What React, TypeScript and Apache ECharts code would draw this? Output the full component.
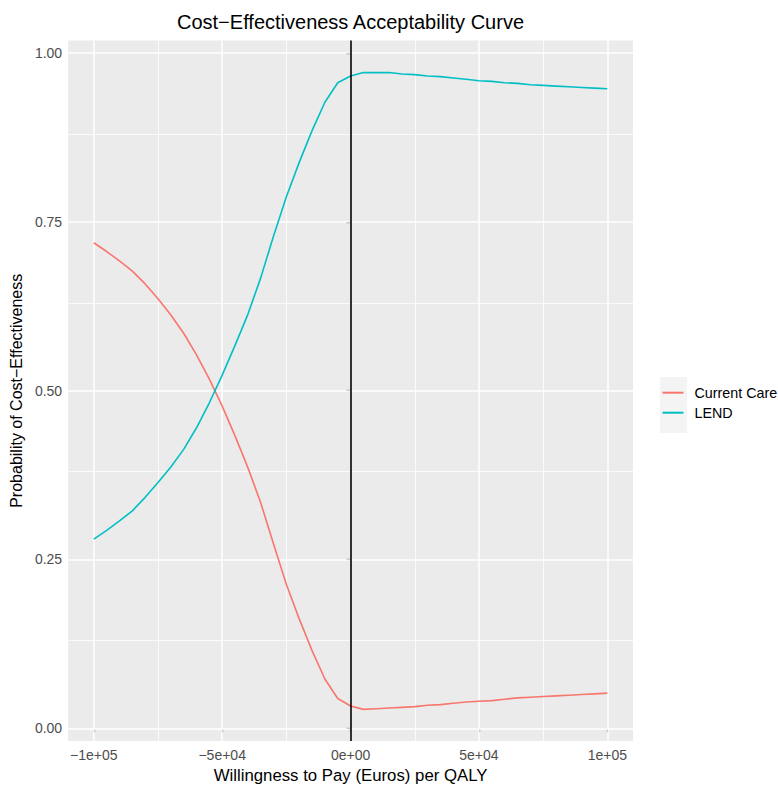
import React, { useEffect, useRef } from "react";
import * as echarts from "echarts";

// Willingness to pay (Euros) per QALY
const wtp = [
  -100000, -95000, -90000, -85000, -80000, -75000, -70000, -65000, -60000, -55000,
  -50000, -45000, -40000, -35000, -30000, -25000, -20000, -15000, -10000, -5000,
  0, 5000, 10000, 15000, 20000, 25000, 30000, 35000, 40000, 45000,
  50000, 55000, 60000, 65000, 70000, 75000, 80000, 85000, 90000, 95000, 100000,
];

const currentCare = [
  0.719, 0.706, 0.692, 0.677, 0.658, 0.636, 0.612, 0.585, 0.553, 0.517,
  0.477, 0.433, 0.386, 0.334, 0.273, 0.213, 0.162, 0.115, 0.073, 0.044,
  0.033, 0.028, 0.029, 0.030, 0.031, 0.032, 0.034, 0.035, 0.037, 0.039,
  0.040, 0.041, 0.043, 0.045, 0.046, 0.047, 0.048, 0.049, 0.050, 0.051, 0.052,
];

const lend = [
  0.280, 0.293, 0.307, 0.322, 0.342, 0.364, 0.387, 0.413, 0.445, 0.482,
  0.523, 0.567, 0.613, 0.667, 0.729, 0.787, 0.838, 0.885, 0.927, 0.956,
  0.966, 0.971, 0.971, 0.971, 0.969, 0.968, 0.966, 0.965, 0.963, 0.961,
  0.959, 0.958, 0.956, 0.955, 0.953, 0.952, 0.951, 0.950, 0.949, 0.948, 0.947,
];

const seriesNames = ["Current Care", "LEND"];
const xTickValues = [-100000, -50000, 0, 50000, 100000];
const xTickLabels = ["\u22121e+05", "\u22125e+04", "0e+00", "5e+04", "1e+05"];
const xMinorValues = [-75000, -25000, 25000, 75000];
const yTickValues = [0, 0.25, 0.5, 0.75, 1];
const yTickLabels = ["0.00", "0.25", "0.50", "0.75", "1.00"];
const yMinorValues = [0.125, 0.375, 0.625, 0.875];
const vlineAt = [0];

const FONT = "'Liberation Sans', Arial, Helvetica, sans-serif";

export default function App() {
  const ref = useRef<HTMLDivElement>(null);

  useEffect(() => {
    if (!ref.current) return;
    const chart = echarts.init(ref.current, undefined, { renderer: "svg" });

    const major = { color: "#FFFFFF", width: 1.5, type: "solid" as const };
    const minor = { color: "#FFFFFF", width: 0.8, type: "solid" as const };

    const gridLines = [
      ...xMinorValues.map((v) => ({ xAxis: v, lineStyle: minor })),
      ...yMinorValues.map((v) => ({ yAxis: v, lineStyle: minor })),
      ...xTickValues.map((v) => ({ xAxis: v, lineStyle: major })),
      ...yTickValues.map((v) => ({ yAxis: v, lineStyle: major })),
    ];

    const option: any = {
      animation: false,
      backgroundColor: "#FFFFFF",
      textStyle: { fontFamily: FONT },
      grid: {
        left: 68,
        top: 40.5,
        width: 565,
        height: 706.5,
        show: true,
        backgroundColor: "#EBEBEB",
        borderWidth: 0,
        containLabel: false,
      },
      graphic: [
        {
          type: "text",
          x: 350.5,
          y: 22,
          style: {
            text: "Cost\u2212Effectiveness Acceptability Curve",
            fontSize: 20,
            fontFamily: FONT,
            fill: "#000000",
            textAlign: "center",
            textVerticalAlign: "middle",
          },
        },
        {
          type: "rect",
          shape: { x: 660, y: 377, width: 27, height: 56 },
          style: { fill: "#F4F4F4" },
          z: -1,
        },
      ],
      legend: {
        orient: "vertical",
        left: 662.5,
        top: 384.2,
        padding: 0,
        itemWidth: 21,
        itemHeight: 2,
        itemGap: 3,
        icon: "rect",
        data: seriesNames,
        textStyle: {
          fontSize: 14.3,
          color: "#000000",
          fontFamily: FONT,
          lineHeight: 17,
          padding: [0, 0, 0, 6],
        },
        selectedMode: false,
      },
      xAxis: {
        type: "value",
        min: -110000,
        max: 110000,
        name: "Willingness to Pay (Euros) per QALY",
        nameLocation: "middle",
        nameGap: 22,
        nameTextStyle: { fontSize: 16.8, color: "#000000", fontFamily: FONT },
        axisLine: { show: false },
        axisTick: {
          show: true,
          customValues: xTickValues,
          length: 4,
          lineStyle: { color: "#333333", width: 1.2 },
        },
        axisLabel: {
          customValues: xTickValues,
          fontSize: 14,
          color: "#4D4D4D",
          margin: 7,
          fontFamily: FONT,
          formatter: (v: number) => {
            const i = xTickValues.indexOf(v);
            return i >= 0 ? xTickLabels[i] : "";
          },
        },
        splitLine: { show: false },
        minorSplitLine: { show: false },
      },
      yAxis: {
        type: "value",
        min: -0.019,
        max: 1.0185,
        name: "Probability of Cost\u2212Effectiveness",
        nameLocation: "middle",
        nameGap: 41,
        nameTextStyle: { fontSize: 16, color: "#000000", fontFamily: FONT },
        axisLine: { show: false },
        axisTick: {
          show: true,
          customValues: yTickValues,
          length: 4,
          lineStyle: { color: "#333333", width: 1.2 },
        },
        axisLabel: {
          customValues: yTickValues,
          fontSize: 14,
          color: "#4D4D4D",
          margin: 6,
          fontFamily: FONT,
          formatter: (v: number) => {
            const i = yTickValues.findIndex((t) => Math.abs(t - v) < 1e-9);
            return i >= 0 ? yTickLabels[i] : "";
          },
        },
        splitLine: { show: false },
        minorSplitLine: { show: false },
      },
      series: [
        {
          name: seriesNames[0],
          type: "line",
          data: wtp.map((x, i) => [x, currentCare[i]]),
          showSymbol: false,
          smooth: false,
          lineStyle: { color: "#F8766D", width: 1.6 },
          itemStyle: { color: "#F8766D" },
          z: 3,
          markLine: {
            silent: true,
            symbol: ["none", "none"],
            label: { show: false },
            z: 1,
            emphasis: { disabled: true },
            data: gridLines,
          },
        },
        {
          name: seriesNames[1],
          type: "line",
          data: wtp.map((x, i) => [x, lend[i]]),
          showSymbol: false,
          smooth: false,
          lineStyle: { color: "#00BFC4", width: 1.6 },
          itemStyle: { color: "#00BFC4" },
          z: 3,
          markLine: {
            silent: true,
            symbol: ["none", "none"],
            label: { show: false },
            z: 6,
            emphasis: { disabled: true },
            lineStyle: { color: "#000000", width: 1.6, type: "solid" },
            data: vlineAt.map((v) => ({ xAxis: v })),
          },
        },
      ],
    };

    chart.setOption(option);
    return () => chart.dispose();
  }, []);

  return (
    <div
      ref={ref}
      style={{ position: "absolute", left: 0, top: 0, width: 778, height: 789 }}
    />
  );
}
